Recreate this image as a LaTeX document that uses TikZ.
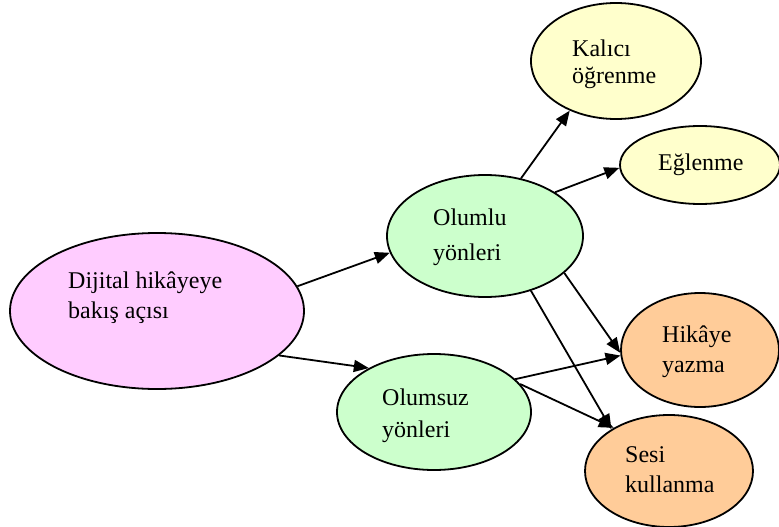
\documentclass[tikz,border=0pt]{standalone}
\usepackage{fontspec}
\setmainfont{Liberation Serif}
\usepackage{xcolor}
\definecolor{pinkfill}{HTML}{FFCCFF}
\definecolor{greenfill}{HTML}{CCFFCC}
\definecolor{yellowfill}{HTML}{FFFFCC}
\definecolor{orangefill}{HTML}{FFCC99}
\usetikzlibrary{arrows.meta,shapes.geometric}

\begin{document}
\begin{tikzpicture}[x=1pt, y=-1pt,
    bubble/.style={ellipse, draw=black, line width=1.8pt, inner sep=0pt},
    lbl/.style={font=\fontsize{24}{30}\selectfont, align=left, anchor=base west, inner sep=0pt},
    arr/.style={-{Triangle[length=15pt,width=12pt]}, line width=1.8pt}]
  \useasboundingbox (0,0) rectangle (779,527);
  % ellipses
  \node[bubble, fill=pinkfill, minimum width=294pt, minimum height=156pt] (dij) at (157,311) {};
  \node[bubble, fill=greenfill, minimum width=196pt, minimum height=122pt] (olu) at (485,236) {};
  \node[bubble, fill=greenfill, minimum width=194pt, minimum height=116pt] (olm) at (434,412) {};
  \node[bubble, fill=yellowfill, minimum width=170pt, minimum height=116pt] (kal) at (616,61) {};
  \node[bubble, fill=yellowfill, minimum width=160pt, minimum height=78pt] (egl) at (700,165) {};
  \node[bubble, fill=orangefill, minimum width=158pt, minimum height=114pt] (hik) at (700,350) {};
  \node[bubble, fill=orangefill, minimum width=168pt, minimum height=112pt] (ses) at (669,471) {};
  % texts (base = last line)
  \node[lbl] (dij-t) at (68,318) {Dijital hikâyeye\\bakış açısı};
  \node[lbl] (olu-t) at (433,260) {Olumlu\\[5pt]yönleri};
  \node[lbl] (olm-t) at (382,437) {Olumsuz\\[2pt]yönleri};
  \node[lbl] (kal-t) at (572,83) {Kalıcı\\[-4pt]öğrenme};
  \node[lbl] (egl-t) at (658,170) {Eğlenme};
  \node[lbl] (hik-t) at (662,372) {Hikâye\\yazma};
  \node[lbl] (ses-t) at (625,492) {Sesi\\kullanma};
  % connectors
  \foreach \a/\b in {dij.10/olu.190, dij.-20/olm.146, olu.58/kal.227, olu.32/egl.182,
                     olu.-25/hik.182, olu.-50/ses.144, olm.22/hik.184, olm.18/ses.142}
    \draw[arr] (\a) -- (\b);
\end{tikzpicture}
\end{document}
